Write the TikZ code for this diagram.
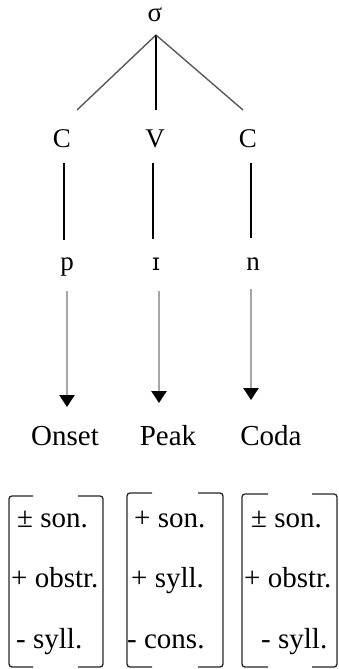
\documentclass[tikz,border=0pt]{standalone}
\usepackage{fontspec}
\setmainfont{Liberation Serif}
\newfontfamily\ipafont{DejaVu Serif}
\usetikzlibrary{arrows.meta}
\begin{document}
\begin{tikzpicture}[x=1pt,y=-1pt,
  treelbl/.style={inner sep=0pt,anchor=base,font=\fontsize{27}{30}\selectfont},
  lbl/.style={inner sep=0pt,anchor=base,font=\fontsize{29}{32}\selectfont},
  feat/.style={inner sep=0pt,anchor=base west,font=\fontsize{29}{32}\selectfont},
  branch/.style={draw=black!65,line width=1.4pt},
  stem/.style={draw=black,line width=1.5pt},
  arr/.style={draw=black!35,line width=2.6pt,-{Triangle[length=12pt,width=15pt,fill=black,color=black]}},
  brk/.style={draw=black!85,line width=1.3pt,rounded corners=3pt}]
\useasboundingbox (0,0) rectangle (338,669);
% tree labels
\node[treelbl] (s) at (155,22) {σ};
\node[treelbl] (c1) at (62,147) {C};
\node[treelbl] (v) at (155,147) {V};
\node[treelbl] (c2) at (248,147) {C};
\node[treelbl] (p) at (67,270) {p};
\node[treelbl,font=\ipafont\fontsize{24}{28}\selectfont] (i) at (156,270) {ɪ};
\node[treelbl] (n) at (253,270) {n};
% connector endpoints
\coordinate (apex) at (156,35);
\coordinate (b1) at (77,110);
\coordinate (b2) at (156,110);
\coordinate (b3) at (243,110);
\draw[branch] (apex) -- (b1);
\draw[stem] (apex) -- (b2);
\draw[branch] (apex) -- (b3);
\coordinate (v1a) at (64,163); \coordinate (v1b) at (64,240);
\coordinate (v2a) at (153,163); \coordinate (v2b) at (153,239);
\coordinate (v3a) at (251,163); \coordinate (v3b) at (251,238);
\draw[stem] (v1a) -- (v1b);
\draw[stem] (v2a) -- (v2b);
\draw[stem] (v3a) -- (v3b);
\coordinate (a1a) at (67,291); \coordinate (a1b) at (67,407);
\coordinate (a2a) at (159,291); \coordinate (a2b) at (159,403);
\coordinate (a3a) at (251,289); \coordinate (a3b) at (251,400);
\draw[arr] (a1a) -- (a1b);
\draw[arr] (a2a) -- (a2b);
\draw[arr] (a3a) -- (a3b);
% labels
\node[lbl] (on) at (65,445) {Onset};
\node[lbl] (pk) at (168,445) {Peak};
\node[lbl] (cd) at (271,445) {Coda};
% brackets
\draw[brk] (33,496) -- (9,496) -- (9,667) -- (33,667);
\draw[brk] (78,496) -- (103,496) -- (103,667) -- (78,667);
\draw[brk] (152,493) -- (127,493) -- (127,667) -- (152,667);
\draw[brk] (198,493) -- (223,493) -- (223,667) -- (198,667);
\draw[brk] (268,494) -- (242,494) -- (242,667) -- (268,667);
\draw[brk] (312,494) -- (337,494) -- (337,667) -- (312,667);
% features
\node[feat] (f11) at (17,527) {± son.};
\node[feat] (f12) at (11,587) {+ obstr.};
\node[feat] (f13) at (16,648) {- syll.};
\node[feat] (f21) at (134,527) {+ son.};
\node[feat] (f22) at (131,587) {+ syll.};
\node[feat] (f23) at (127,648) {- cons.};
\node[feat] (f31) at (251,527) {± son.};
\node[feat] (f32) at (244,587) {+ obstr.};
\node[feat] (f33) at (261,648) {- syll.};
\end{tikzpicture}
\end{document}
